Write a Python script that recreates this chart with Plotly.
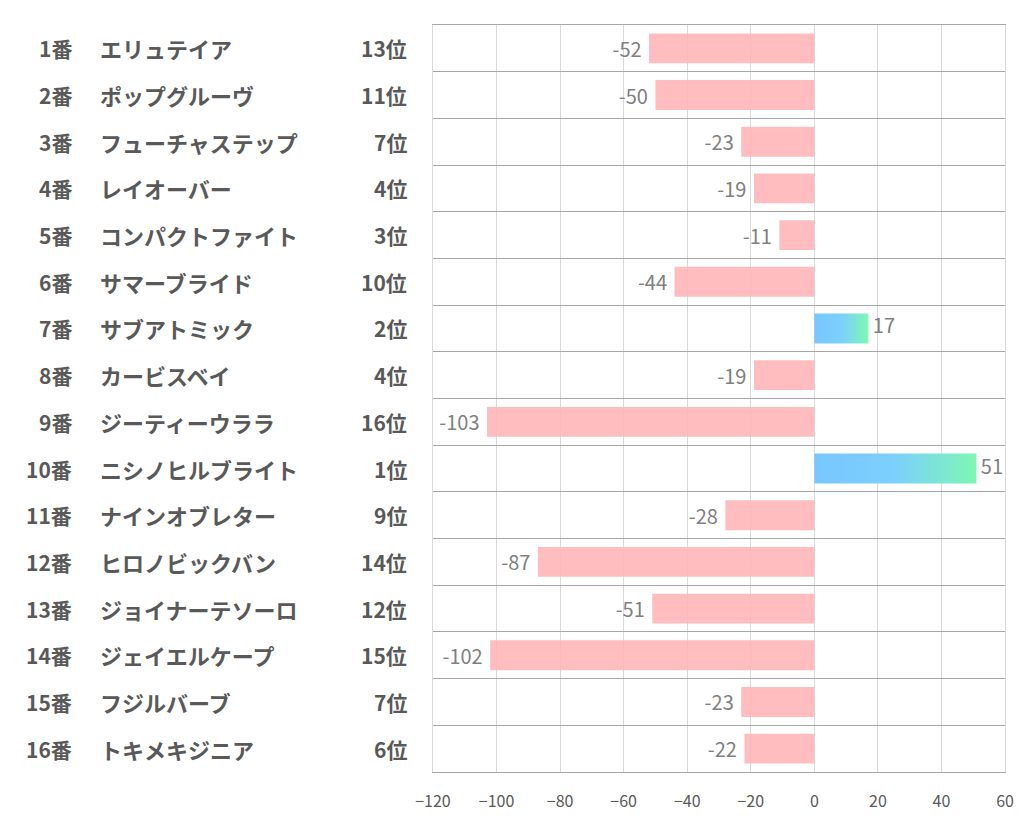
import plotly.graph_objects as go

numbers = ["1番", "2番", "3番", "4番", "5番", "6番", "7番", "8番",
           "9番", "10番", "11番", "12番", "13番", "14番", "15番", "16番"]
names = ["エリュテイア", "ポップグルーヴ", "フューチャステップ", "レイオーバー",
         "コンパクトファイト", "サマーブライド", "サブアトミック", "カービスベイ",
         "ジーティーウララ", "ニシノヒルブライト", "ナインオブレター", "ヒロノビックバン",
         "ジョイナーテソーロ", "ジェイエルケープ", "フジルバーブ", "トキメキジニア"]
ranks = ["13位", "11位", "7位", "4位", "3位", "10位", "2位", "4位",
         "16位", "1位", "9位", "14位", "12位", "15位", "7位", "6位"]
values = [-52, -50, -23, -19, -11, -44, 17, -19,
          -103, 51, -28, -87, -51, -102, -23, -22]
x_ticks = [-120, -100, -80, -60, -40, -20, 0, 20, 40, 60]

JP = "Noto Sans CJK JP"
BAR_H = 0.64
OFF = 8  # page body margin

fig = go.Figure()

neg_idx = [i for i, v in enumerate(values) if v < 0]
pos_idx = [i for i, v in enumerate(values) if v >= 0]

fig.add_trace(go.Bar(
    x=[values[i] for i in neg_idx],
    y=neg_idx,
    orientation="h",
    width=BAR_H,
    marker=dict(color="rgba(255,180,183,0.88)", line=dict(width=0)),
    text=[str(values[i]) + " " for i in neg_idx],
    textposition="outside",
    textfont=dict(family=JP, size=20, color="#7f7f7f"),
    cliponaxis=False,
    showlegend=False,
    hoverinfo="skip",
))

for i in pos_idx:
    v = values[i]
    h = BAR_H / 2
    fig.add_trace(go.Scatter(
        x=[0, v, v, 0, 0],
        y=[i - h, i - h, i + h, i + h, i - h],
        mode="lines",
        line=dict(width=0),
        fill="toself",
        fillgradient=dict(type="horizontal",
                          colorscale=[[0, "#78c6ff"], [0.5, "#7cd0fc"], [1, "#7ef7b4"]]),
        showlegend=False,
        hoverinfo="skip",
    ))

fig.add_trace(go.Scatter(
    x=[values[i] for i in pos_idx],
    y=pos_idx,
    mode="text",
    text=[" " + str(values[i]) for i in pos_idx],
    textposition="middle right",
    textfont=dict(family=JP, size=20, color="#7f7f7f"),
    showlegend=False,
    hoverinfo="skip",
    cliponaxis=False,
))

# Left-hand label columns (window pixel positions)
L, R, T, B = 433 - OFF, 1005 - OFF, 25 - OFF, 772 - OFF
W = R - L
def px(p):
    return (p - OFF - L) / W

LBL = dict(family=JP, size=21, color="#595959", weight="bold")
NAME = dict(family=JP, size=22, color="#595959", weight="bold")
for i in range(len(values)):
    fig.add_annotation(x=px(74), y=i, xref="paper", yref="y", text=numbers[i],
                       showarrow=False, xanchor="right", font=LBL)
    fig.add_annotation(x=px(98), y=i, xref="paper", yref="y", text=names[i],
                       showarrow=False, xanchor="left", font=NAME)
    fig.add_annotation(x=px(409), y=i, xref="paper", yref="y", text=ranks[i],
                       showarrow=False, xanchor="right", font=LBL)

fig.update_layout(
    width=1022, height=834,
    margin=dict(l=L, r=1022 - R, t=T, b=834 - B),
    plot_bgcolor="white", paper_bgcolor="white",
    xaxis=dict(range=[-120, 60], tickvals=x_ticks, showgrid=True,
               gridcolor="#d9d9d9", gridwidth=1, zeroline=False,
               showline=True, linecolor="#a6a6a6", linewidth=1, mirror=True,
               ticks="outside", ticklen=15, tickcolor="rgba(0,0,0,0)", automargin=False,
               tickfont=dict(family=JP, size=16, color="#595959")),
    yaxis=dict(range=[15.5, -0.5], tickvals=[k - 0.5 for k in range(len(values) + 1)],
               showticklabels=False, showgrid=True, gridcolor="#a6a6a6", gridwidth=1,
               zeroline=False, showline=True, linecolor="#d9d9d9", linewidth=1, mirror=True,
               ticks="", automargin=False),
)

fig.write_html("out.html")
